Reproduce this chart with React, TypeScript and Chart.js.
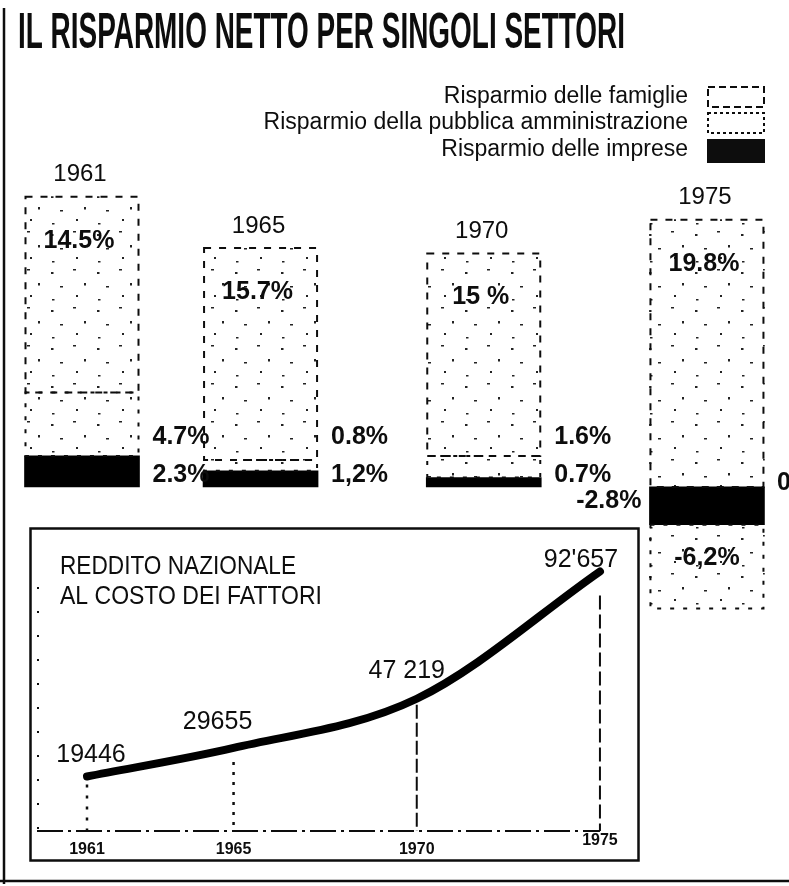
import React, { useEffect, useRef } from "react";
import { Chart, registerables } from "chart.js";

Chart.register(...registerables);

// ---------- data ----------
const YEARS = [1961, 1965, 1970, 1975];
const YEAR_LABELS = ["1961", "1965", "1970", "1975"];
const FAMIGLIE = [14.5, 15.7, 15, 19.8];
const PUBBLICA = [4.7, 0.8, 1.6, -6.2];
const IMPRESE = [2.3, 1.2, 0.7, -2.8];
const FAMIGLIE_LABELS = ["14.5%", "15.7%", "15 %", "19.8%"];
const PUBBLICA_LABELS = ["4.7%", "0.8%", "1.6%", "-6,2%"];
const IMPRESE_LABELS = ["2.3%", "1,2%", "0.7%", "-2.8%"];
const REDDITO = [19446, 29655, 47219, 92657];
const REDDITO_LABELS = ["19446", "29655", "47 219", "92'657"];
const LEGEND_LABELS = [
  "Risparmio delle famiglie",
  "Risparmio della pubblica amministrazione",
  "Risparmio delle imprese",
];
const TITLE = "IL RISPARMIO NETTO PER SINGOLI SETTORI";
const INSET_TITLE = ["REDDITO NAZIONALE", "AL COSTO DEI FATTORI"];

// ---------- style ----------
const NARROW = '"Liberation Sans Narrow", "Liberation Sans", sans-serif';
const SANS = '"Liberation Sans", Arial, sans-serif';
const INK = "#0d0d0d";
const W = 789;
const H = 886;
const INSET = { left: 29, top: 527, width: 611, height: 335 };
const REDDITO_LABEL_OFFSETS = [
  [4, -21],
  [-16, -26],
  [-10, -28],
  [-19, -11],
];

function makeSpeckle(): CanvasPattern | string {
  const tw = 46;
  const th = 38;
  const c = document.createElement("canvas");
  c.width = tw;
  c.height = th;
  const g = c.getContext("2d");
  if (!g) return "#fff";
  g.fillStyle = "#fff";
  g.fillRect(0, 0, tw, th);
  g.fillStyle = "#222";
  const dots = [
    [5, 6, 2.5, 2],
    [27, 3, 3, 1.5],
    [38, 17, 2, 2.5],
    [14, 20, 3, 1.5],
    [30, 29, 2, 2],
    [6, 33, 2.5, 1.5],
  ];
  dots.forEach(([x, y, w, h]) => g.fillRect(x, y, w, h));
  return g.createPattern(c, "repeat") || "#fff";
}

const mainPlugin = {
  id: "mainDecor",
  beforeDraw(chart: any) {
    const ctx = chart.ctx;
    ctx.save();
    ctx.fillStyle = "#fff";
    ctx.fillRect(0, 0, chart.width, chart.height);
    ctx.restore();
  },
  afterDatasetsDraw(chart: any) {
    const ctx = chart.ctx;
    [1, 2].forEach((di) => {
      chart.getDatasetMeta(di).data.forEach((el: any) => {
        const { x, y, base, width } = el.getProps(["x", "y", "base", "width"], true);
        const l = x - width / 2;
        const r = x + width / 2;
        const t = Math.min(y, base);
        const b = Math.max(y, base);
        ctx.save();
        ctx.strokeStyle = INK;
        ctx.lineWidth = 2;
        ctx.setLineDash(di === 2 ? [7, 8] : [4, 9]);
        ctx.strokeRect(l + 1, t, r - l - 2, b - t);
        ctx.restore();
      });
    });
  },
  afterDraw(chart: any) {
    const ctx = chart.ctx;
    const yS = chart.scales.y;
    const zero = yS.getPixelForValue(0);
    const mImp = chart.getDatasetMeta(0);
    const mPub = chart.getDatasetMeta(1);
    const mFam = chart.getDatasetMeta(2);
    ctx.save();
    ctx.fillStyle = INK;

    // Title
    ctx.font = `bold 50px ${NARROW}`;
    ctx.textAlign = "left";
    ctx.textBaseline = "alphabetic";
    ctx.fillText(TITLE, 18, 48, 607);

    // Legend
    ctx.font = `23px ${SANS}`;
    ctx.textAlign = "right";
    ctx.textBaseline = "middle";
    const ly = [97, 123, 150];
    LEGEND_LABELS.forEach((t, i) => ctx.fillText(t, 688, ly[i]));
    ctx.strokeStyle = INK;
    ctx.lineWidth = 2;
    ctx.setLineDash([7, 4]);
    ctx.strokeRect(708, 87, 56, 20);
    ctx.setLineDash([3, 3]);
    ctx.strokeRect(708, 113, 56, 20);
    ctx.setLineDash([]);
    ctx.fillRect(707, 139, 58, 24);

    // Bar labels
    YEARS.forEach((_, i) => {
      const fam = mFam.data[i];
      const pub = mPub.data[i];
      const imp = mImp.data[i];
      const xC = fam.x;
      const half = fam.width / 2;
      const top = Math.min(fam.y, fam.base);

      ctx.textBaseline = "middle";
      ctx.textAlign = "center";
      ctx.font = `24px ${SANS}`;
      ctx.fillText(YEAR_LABELS[i], xC - 2, top - 22);

      ctx.font = `bold 25px ${NARROW}`;
      ctx.fillText(FAMIGLIE_LABELS[i], xC - 3, top + 44);

      if (PUBBLICA[i] >= 0) {
        ctx.textAlign = "left";
        ctx.fillText(PUBBLICA_LABELS[i], xC + half + 13, zero - 50);
      } else {
        ctx.textAlign = "center";
        ctx.fillText(PUBBLICA_LABELS[i], xC, (pub.y + pub.base) / 2 - 8);
      }
      if (IMPRESE[i] >= 0) {
        ctx.textAlign = "left";
        ctx.fillText(IMPRESE_LABELS[i], xC + half + 13, zero - 12);
      } else {
        ctx.textAlign = "right";
        ctx.fillText(IMPRESE_LABELS[i], imp.x - half - 8, zero + 14);
      }
    });

    // stray zero at right edge
    ctx.textAlign = "left";
    ctx.fillText("0", 777, zero - 4);

    // page frame
    ctx.lineWidth = 2.5;
    ctx.beginPath();
    ctx.moveTo(4, 8);
    ctx.lineTo(4, 884);
    ctx.moveTo(0, 881);
    ctx.lineTo(W, 881);
    ctx.stroke();
    ctx.restore();
  },
};

const insetPlugin = {
  id: "insetDecor",
  beforeDraw(chart: any) {
    const ctx = chart.ctx;
    ctx.save();
    ctx.fillStyle = "#fff";
    ctx.fillRect(0, 0, chart.width, chart.height);
    ctx.strokeStyle = INK;
    ctx.lineWidth = 2.5;
    ctx.strokeRect(1.5, 1.5, chart.width - 3, chart.height - 3);
    ctx.restore();
  },
  beforeDatasetsDraw(chart: any) {
    const ctx = chart.ctx;
    const xS = chart.scales.x;
    const yS = chart.scales.y;
    const base = yS.getPixelForValue(0);
    ctx.save();
    ctx.strokeStyle = INK;
    ctx.lineWidth = 2;
    // baseline
    ctx.setLineDash([26, 5, 3, 5]);
    ctx.beginPath();
    ctx.moveTo(8, base);
    ctx.lineTo(xS.getPixelForValue(YEARS[3]), base);
    ctx.stroke();
    // drop lines
    const dashes = [[3, 8], [3, 7], [14, 4], [14, 5]];
    const gaps = [8, 14, 6, 24];
    YEARS.forEach((yr, i) => {
      const px = xS.getPixelForValue(yr);
      const py = yS.getPixelForValue(REDDITO[i]);
      ctx.setLineDash(dashes[i]);
      ctx.lineWidth = i >= 2 ? 2 : 2.5;
      ctx.beginPath();
      ctx.moveTo(px, py + gaps[i]);
      ctx.lineTo(px, base);
      ctx.stroke();
    });
    // faint dotted left mark
    ctx.setLineDash([2, 22]);
    ctx.lineWidth = 2;
    ctx.beginPath();
    ctx.moveTo(9, 60);
    ctx.lineTo(9, base);
    ctx.stroke();
    ctx.restore();
  },
  afterDraw(chart: any) {
    const ctx = chart.ctx;
    const xS = chart.scales.x;
    const yS = chart.scales.y;
    ctx.save();
    ctx.fillStyle = INK;
    ctx.textBaseline = "middle";
    // title
    ctx.textAlign = "left";
    ctx.font = `26px ${NARROW}`;
    ctx.fillText(INSET_TITLE[0], 31, 40, 236);
    ctx.fillText(INSET_TITLE[1], 31, 70, 262);
    // year ticks
    ctx.textAlign = "center";
    ctx.font = `bold 16px ${SANS}`;
    YEARS.forEach((yr, i) => {
      const px = xS.getPixelForValue(yr);
      ctx.fillText(YEAR_LABELS[i], px, i === 3 ? 314 : 323, 37);
    });
    // value labels
    ctx.font = `25px ${NARROW}`;
    YEARS.forEach((yr, i) => {
      const px = xS.getPixelForValue(yr);
      const py = yS.getPixelForValue(REDDITO[i]);
      const [dx, dy] = REDDITO_LABEL_OFFSETS[i];
      ctx.fillText(REDDITO_LABELS[i], px + dx, py + dy);
    });
    ctx.restore();
  },
};

export default function App() {
  const mainRef = useRef<HTMLCanvasElement | null>(null);
  const insetRef = useRef<HTMLCanvasElement | null>(null);

  useEffect(() => {
    document.body.style.margin = "0";
    if (!mainRef.current || !insetRef.current) return;
    const pattern = makeSpeckle();
    const pts = (vals: number[]) => YEARS.map((y, i) => ({ x: y, y: vals[i] }));

    const main = new Chart(mainRef.current, {
      type: "bar",
      data: {
        datasets: [
          { label: LEGEND_LABELS[2], data: pts(IMPRESE), backgroundColor: "#000", borderWidth: 0, barThickness: 115 },
          { label: LEGEND_LABELS[1], data: pts(PUBBLICA), backgroundColor: pattern as any, borderWidth: 0, barThickness: 115 },
          { label: LEGEND_LABELS[0], data: pts(FAMIGLIE), backgroundColor: pattern as any, borderWidth: 0, barThickness: 115 },
        ],
      } as any,
      options: {
        responsive: false,
        animation: false,
        devicePixelRatio: 1,
        layout: { padding: 0 },
        plugins: { legend: { display: false }, tooltip: { enabled: false } },
        scales: {
          x: { type: "linear", min: 1959.163, max: 1976.838, display: false, stacked: true, offset: false },
          y: { type: "linear", min: -29.56, max: 36.07, display: false, stacked: true },
        },
      } as any,
      plugins: [mainPlugin],
    });

    const inset = new Chart(insetRef.current, {
      type: "line",
      data: {
        datasets: [
          {
            label: "Reddito nazionale al costo dei fattori",
            data: pts(REDDITO),
            borderColor: "#000",
            borderWidth: 8,
            pointRadius: 0,
            cubicInterpolationMode: "monotone",
            borderCapStyle: "round",
            fill: false,
          },
        ],
      } as any,
      options: {
        responsive: false,
        animation: false,
        devicePixelRatio: 1,
        layout: { padding: 0 },
        plugins: { legend: { display: false }, tooltip: { enabled: false } },
        scales: {
          x: { type: "linear", min: 1959.417, max: 1976.093, display: false },
          y: { type: "linear", min: -11067, max: 108528, display: false },
        },
      } as any,
      plugins: [insetPlugin],
    });

    return () => {
      main.destroy();
      inset.destroy();
    };
  }, []);

  return (
    <div style={{ position: "relative", width: W, height: H, background: "#fff", overflow: "hidden" }}>
      <canvas ref={mainRef} width={W} height={H} style={{ position: "absolute", left: 0, top: 0, width: W, height: H }} />
      <canvas
        ref={insetRef}
        width={INSET.width}
        height={INSET.height}
        style={{ position: "absolute", left: INSET.left, top: INSET.top, width: INSET.width, height: INSET.height }}
      />
    </div>
  );
}
